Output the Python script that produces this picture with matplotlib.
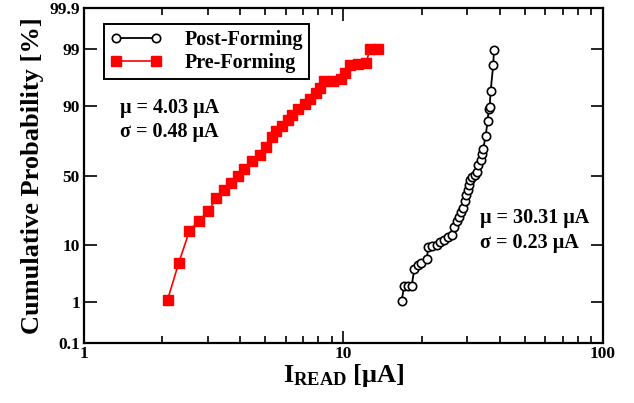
from statistics import NormalDist
import matplotlib
matplotlib.use("Agg")
import matplotlib.pyplot as plt
import numpy as np
from matplotlib.ticker import FixedLocator, FixedFormatter, LogLocator, NullLocator, NullFormatter

plt.rcParams['font.family'] = ['Liberation Serif', 'DejaVu Serif']
plt.rcParams['font.weight'] = 'bold'
plt.rcParams['axes.labelweight'] = 'bold'
plt.rcParams['mathtext.fontset'] = 'custom'
plt.rcParams['mathtext.rm'] = 'Liberation Serif:bold'
plt.rcParams['mathtext.bf'] = 'Liberation Serif:bold'
plt.rcParams['mathtext.default'] = 'rm'

# read currents [uA] and cumulative probabilities [%]
post_i = [16.76, 17.15, 17.68, 18.32, 18.74, 19.32, 19.89, 20.93, 21.22, 21.87,
          22.87, 23.55, 24.46, 25.34, 26.26, 26.73, 27.31, 27.87, 28.37, 28.95,
          29.39, 29.66, 30.11, 30.45, 30.73, 31.19, 32.11, 32.61, 33.07, 33.88,
          34.27, 34.57, 35.32, 35.95, 36.27, 36.59, 36.92, 37.78, 38.02]
post_p = [1.05, 2.09, 2.09, 2.09, 4.17, 4.94, 5.38, 6.08, 9.31, 9.63,
          10.13, 10.93, 11.84, 12.73, 13.52, 16.95, 19.87, 21.97, 24.95, 27.32,
          31.92, 35.94, 39.40, 42.97, 46.57, 49.05, 50.73, 52.7, 57.5, 61.0,
          65.6, 68.9, 76.9, 84.4, 89.1, 89.6, 94.1, 97.97, 98.99]

pre_i = [2.10, 2.32, 2.55, 2.77, 3.01, 3.23, 3.46, 3.69, 3.91, 4.15,
         4.43, 4.77, 5.04, 5.29, 5.50, 5.78, 6.11, 6.31, 6.70, 7.09,
         7.43, 7.81, 8.12, 8.43, 9.08, 9.75, 10.13, 10.59, 11.40, 12.21,
         12.65, 13.62]
pre_p = [1.1, 5.4, 15.4, 20.2, 25.5, 33.7, 39.4, 44.7, 50.0, 54.9,
         60.3, 65.0, 70.2, 76.4, 79.6, 82.1, 84.8, 86.8, 89.0, 90.8,
         92.2, 93.5, 94.6, 95.9, 96.0, 96.2, 97.1, 97.9, 98.0, 98.1,
         99.0, 99.0]

prob_ticks = [0.1, 1, 10, 50, 90, 99, 99.9]
prob_labels = ['0.1', '1', '10', '50', '90', '99', '99.9']

nd = NormalDist()
_ppf = np.vectorize(nd.inv_cdf, otypes=[float])
_cdf = np.vectorize(nd.cdf, otypes=[float])


def forward(p):
    p = np.clip(np.asarray(p, dtype=float) / 100.0, 1e-9, 1 - 1e-9)
    return _ppf(p)


def inverse(z):
    return _cdf(np.asarray(z, dtype=float)) * 100.0


fig = plt.figure(figsize=(6.34, 4.03), dpi=100)
ax = fig.add_axes([0.1325, 0.149, 0.8185, 0.831])

ax.plot(post_i, post_p, color='black', lw=1.3, marker='o', ms=6,
        mfc='white', mec='black', mew=1.2, label='Post-Forming', zorder=3)
ax.plot(pre_i, pre_p, color='#ff0000', lw=1.2, marker='s', ms=7,
        mfc='#ff0000', mec='#ff0000', label='Pre-Forming', zorder=2)

ax.set_xscale('log')
ax.set_yscale('function', functions=(forward, inverse))
ax.set_xlim(1, 100)
ax.set_ylim(0.1, 99.9)

ax.xaxis.set_major_locator(FixedLocator([1, 10, 100]))
ax.xaxis.set_major_formatter(FixedFormatter(['1', '10', '100']))
ax.xaxis.set_minor_locator(LogLocator(base=10, subs=np.arange(2, 10)))
ax.xaxis.set_minor_formatter(NullFormatter())
ax.yaxis.set_major_locator(FixedLocator(prob_ticks))
ax.yaxis.set_major_formatter(FixedFormatter(prob_labels))
ax.yaxis.set_minor_locator(NullLocator())

ax.tick_params(which='both', direction='in', top=True, right=True, width=1.2,
               labelsize=12.5, colors='black')
ax.tick_params(which='major', length=9)
ax.tick_params(which='minor', length=5)
ax.tick_params(axis='x', pad=2)
ax.tick_params(axis='y', pad=3)
for s in ax.spines.values():
    s.set_linewidth(1.6)

ax.set_xlabel(r'I$_{\mathrm{READ}}$ [μA]', fontsize=19, fontweight='bold', labelpad=0)
ax.set_ylabel('Cumulative Probability [%]', fontsize=19, fontweight='bold', labelpad=4)

ax.text(0.069, 0.701, 'μ = 4.03 μA', transform=ax.transAxes, fontsize=14.5,
        va='center', ha='left')
ax.text(0.069, 0.630, 'σ = 0.48 μA', transform=ax.transAxes, fontsize=14.5,
        va='center', ha='left')
ax.text(0.763, 0.373, 'μ = 30.31 μA', transform=ax.transAxes, fontsize=14.5,
        va='center', ha='left')
ax.text(0.763, 0.299, 'σ = 0.23 μA', transform=ax.transAxes, fontsize=14.5,
        va='center', ha='left')

leg = ax.legend(loc='upper left', bbox_to_anchor=(0.0385, 0.952), borderaxespad=0,
                numpoints=2, handlelength=2.6, handletextpad=1.1, labelspacing=0.15,
                borderpad=0.3, fancybox=False, framealpha=1, edgecolor='black',
                prop={'size': 14.5, 'weight': 'bold'})
leg.get_frame().set_linewidth(1.4)

fig.savefig('out.png', dpi=100)
